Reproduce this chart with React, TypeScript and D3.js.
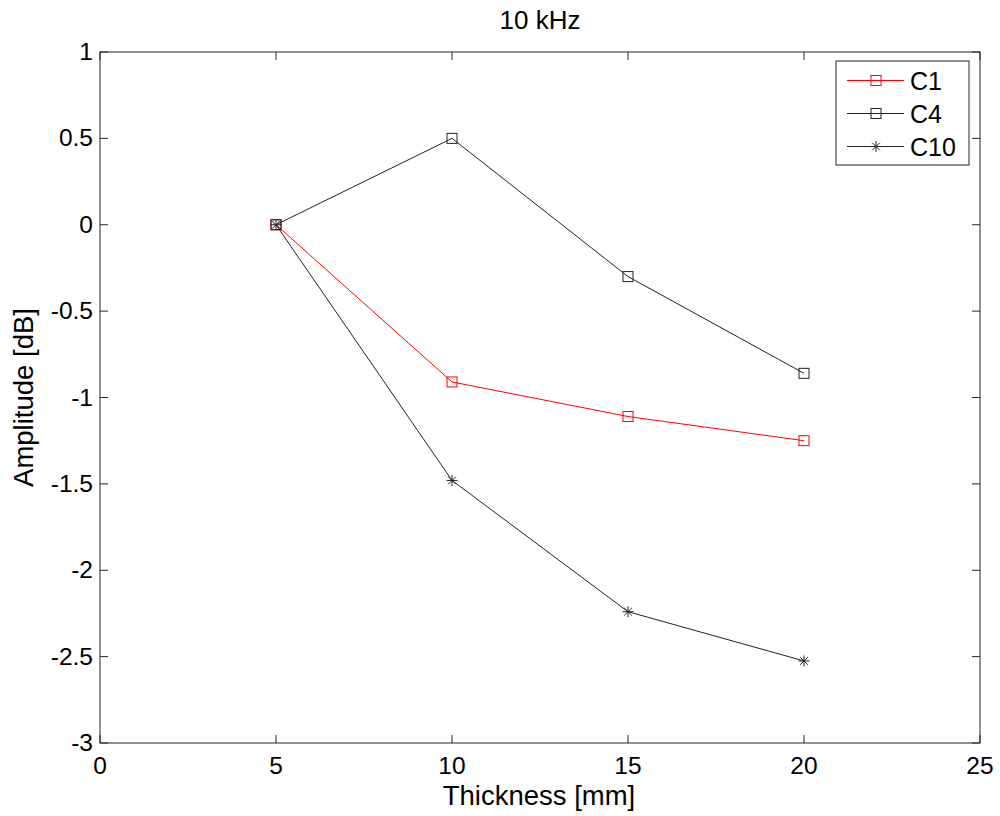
import React from "react";
import * as d3 from "d3";

const thickness = [5, 10, 15, 20];
const c1 = [0, -0.91, -1.11, -1.25];
const c4 = [0, 0.5, -0.3, -0.86];
const c10 = [0, -1.48, -2.24, -2.525];
const xTicks = [0, 5, 10, 15, 20, 25];
const yTicks = [1, 0.5, 0, -0.5, -1, -1.5, -2, -2.5, -3];
const seriesNames = ["C1", "C4", "C10"];
const seriesColors = ["#ff0000", "#222222", "#222222"];
const seriesMarkers = ["square", "square", "star"];

const L = 100, R = 980, T = 52, B = 743;
const FONT = "'Liberation Sans', Arial, sans-serif";

function Marker({ type, x, y, color }: { type: string; x: number; y: number; color: string }) {
  if (type === "square") {
    return <rect x={x - 5} y={y - 5} width={10} height={10} fill="none" stroke={color} strokeWidth={1} />;
  }
  const s = 5.5;
  return (
    <g stroke={color} strokeWidth={1}>
      <line x1={x - s} y1={y} x2={x + s} y2={y} />
      <line x1={x} y1={y - s} x2={x} y2={y + s} />
      <line x1={x - s * 0.7} y1={y - s * 0.7} x2={x + s * 0.7} y2={y + s * 0.7} />
      <line x1={x - s * 0.7} y1={y + s * 0.7} x2={x + s * 0.7} y2={y - s * 0.7} />
    </g>
  );
}

export default function App() {
  const x = d3.scaleLinear().domain([0, 25]).range([L, R]);
  const y = d3.scaleLinear().domain([-3, 1]).range([B, T]);
  const series = [c1, c4, c10];
  const line = d3.line<number>().x((_, i) => x(thickness[i])).y((d) => y(d));
  const axisColor = "#262626";
  const tl = 8;
  return (
    <svg width={1000} height={816} style={{ position: "absolute", left: 0, top: 0 }} fontFamily={FONT}>
      <rect width={1000} height={816} fill="#fff" />
      <text x={(L + R) / 2} y={29} textAnchor="middle" fontSize={26} fill="#000">10 kHz</text>
      {xTicks.map((t) => (
        <g key={"x" + t}>
          <line x1={x(t)} x2={x(t)} y1={B} y2={B - tl} stroke={axisColor} />
          <line x1={x(t)} x2={x(t)} y1={T} y2={T + tl} stroke={axisColor} />
          <text x={x(t)} y={774} textAnchor="middle" fontSize={24.5} fill="#000">{t}</text>
        </g>
      ))}
      {yTicks.map((t) => (
        <g key={"y" + t}>
          <line x1={L} x2={L + tl} y1={y(t)} y2={y(t)} stroke={axisColor} />
          <line x1={R} x2={R - tl} y1={y(t)} y2={y(t)} stroke={axisColor} />
          <text x={L - 7} y={y(t) + 8} textAnchor="end" fontSize={24.5} fill="#000">{t}</text>
        </g>
      ))}
      <rect x={L} y={T} width={R - L} height={B - T} fill="none" stroke={axisColor} />
      <text x={539} y={805} textAnchor="middle" fontSize={27.5} fill="#000">Thickness [mm]</text>
      <text transform={`translate(33,${(T + B) / 2}) rotate(-90)`} textAnchor="middle" fontSize={27.5} fill="#000">Amplitude [dB]</text>
      {series.map((s, i) => (
        <g key={seriesNames[i]}>
          <path d={line(s) || ""} fill="none" stroke={seriesColors[i]} strokeWidth={1} />
          {s.map((v, j) => (
            <Marker key={j} type={seriesMarkers[i]} x={x(thickness[j])} y={y(v)} color={seriesColors[i]} />
          ))}
        </g>
      ))}
      <rect x={836} y={61} width={133} height={104} fill="#fff" stroke={axisColor} />
      {seriesNames.map((n, i) => {
        const ly = 80.5 + i * 33;
        return (
          <g key={"leg" + n}>
            <line x1={847} x2={904} y1={ly} y2={ly} stroke={seriesColors[i]} />
            <Marker type={seriesMarkers[i]} x={876} y={ly} color={seriesColors[i]} />
            <text x={910} y={ly + 9} fontSize={25} fill="#000">{n}</text>
          </g>
        );
      })}
    </svg>
  );
}
